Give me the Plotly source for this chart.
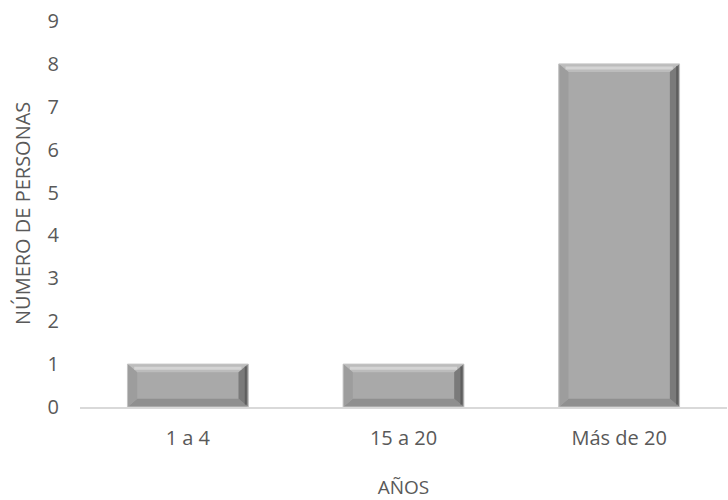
import plotly.graph_objects as go

# Data
categorias = ["1 a 4", "15 a 20", "Más de 20"]
personas = [1, 1, 8]

ancho = 0.56          # bar width in category units
bisel_x = 0.045       # bevel depth, category units
bisel_y = 0.19        # bevel depth, value units

fig = go.Figure()
fig.add_trace(go.Bar(
    x=categorias, y=personas, width=ancho,
    marker=dict(color="#a9a9a9", line=dict(width=0)),
    hoverinfo="x+y",
))

# Bevel faces for each bar, built from its value and category index
shapes = []
for i, v in enumerate(personas):
    x0, x1 = i - ancho / 2, i + ancho / 2
    bx = bisel_x
    by = min(bisel_y, v / 2.5)
    ix0, ix1, iy0, iy1 = x0 + bx, x1 - bx, by, v - by
    caras = [
        # top, bottom, left, right
        ([(x0, v), (x1, v), (ix1, iy1), (ix0, iy1)], "#bcbcbc"),
        ([(x0, 0), (x1, 0), (ix1, iy0), (ix0, iy0)], "#8f8f8f"),
        ([(x0, 0), (x0, v), (ix0, iy1), (ix0, iy0)], "#9d9d9d"),
        ([(x1, 0), (x1, v), (ix1, iy1), (ix1, iy0)], "#7a7a7a"),
    ]
    for pts, col in caras:
        path = "M " + " L ".join(f"{px},{py}" for px, py in pts) + " Z"
        shapes.append(dict(type="path", path=path, xref="x", yref="y",
                           fillcolor=col, line=dict(width=0), layer="above"))
    # soft highlight along the top bevel
    shapes.append(dict(type="line", xref="x", yref="y",
                       x0=x0 + bx * 0.7, x1=x1 - bx * 0.7, y0=v - by * 0.5, y1=v - by * 0.5,
                       line=dict(color="#d4d4d4", width=3), layer="above"))
    # darker strip at the right edge
    shapes.append(dict(type="line", xref="x", yref="y",
                       x0=x1 - bx * 0.25, x1=x1 - bx * 0.25, y0=by * 0.3, y1=v - by * 0.3,
                       line=dict(color="#5e5e5e", width=2), layer="above"))
    # thin light outline
    shapes.append(dict(type="rect", xref="x", yref="y", x0=x0, x1=x1, y0=0, y1=v,
                       line=dict(color="#c4c4c4", width=1), layer="above"))

fuente = "Open Sans"
color_texto = "#595959"
fig.update_layout(
    width=728, height=500,
    margin=dict(l=80, r=1, t=21, b=93),
    paper_bgcolor="white", plot_bgcolor="white",
    showlegend=False,
    shapes=shapes,
    font=dict(family=fuente, size=20, color=color_texto),
    xaxis=dict(
        type="category", range=[-0.5, 2.5],
        showgrid=False, zeroline=False,
        showline=True, linecolor="#d9d9d9", linewidth=2,
        ticks="", ticklabelstandoff=12,
        tickfont=dict(size=20, color=color_texto),
        title=dict(text="AÑOS", font=dict(size=19, color=color_texto), standoff=32),
    ),
    yaxis=dict(
        range=[0, 9], dtick=1, tick0=0,
        showgrid=False, zeroline=False, showline=False,
        ticks="", ticklabelstandoff=20,
        tickfont=dict(size=20, color=color_texto),
    ),
    annotations=[dict(
        text="NÚMERO DE PERSONAS", textangle=-90,
        xref="paper", yref="paper", x=0, y=0.5, xshift=-58,
        xanchor="center", yanchor="middle", showarrow=False,
        font=dict(size=20, color=color_texto),
    )],
)

fig.write_html("out.html")
